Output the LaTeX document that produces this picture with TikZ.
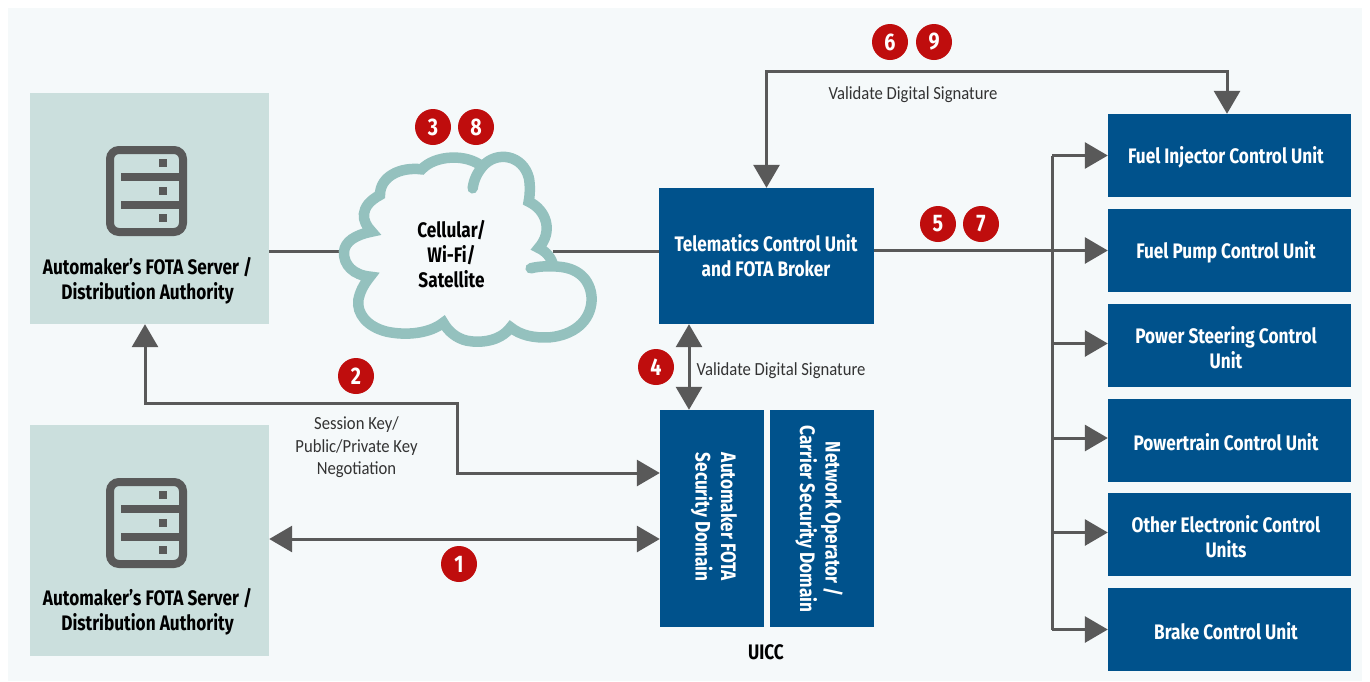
\documentclass[tikz,border=0pt]{standalone}
\usepackage{fontspec}
\setmainfont{Fira Sans}[FakeStretch=0.82]
\newfontfamily\thinfont{Carlito}[FakeStretch=0.9]
\usetikzlibrary{arrows.meta}
\definecolor{bgpale}{HTML}{F5F9FA}
\definecolor{srvpale}{HTML}{CBDFDD}
\definecolor{unitblue}{HTML}{00528C}
\definecolor{linegray}{HTML}{595959}
\definecolor{cloudteal}{HTML}{94C1BE}
\definecolor{badgered}{HTML}{BF0D0D}
\tikzset{
  unit/.style={fill=unitblue,inner sep=0pt},
  unittext/.style={text=white,font=\fontsize{21}{25.5}\selectfont\bfseries,align=center,inner sep=0pt},
  srv/.style={fill=srvpale,minimum width=239pt,minimum height=231pt,inner sep=0pt},
  srvtext/.style={font=\fontsize{21}{25}\selectfont\bfseries,align=center,text=black},
  note/.style={font=\thinfont\fontsize{18.5}{22.5}\selectfont,align=center,text=black!80},
  badge/.style={circle,fill=badgered,text=white,minimum size=36pt,inner sep=0pt,font=\fontsize{24}{24}\selectfont\bfseries},
  conn/.style={draw=linegray,line width=3pt},
  tip/.style={-{Triangle[length=23pt,width=26pt]}},
  tips/.style={{Triangle[length=23pt,width=26pt]}-{Triangle[length=23pt,width=26pt]}}
}
\begin{document}
\begin{tikzpicture}[x=1pt,y=-1pt]
  \useasboundingbox (0,0) rectangle (1370,681);
  \fill[bgpale] (8,8) rectangle (1362,681);

  \node[srv] (srvA) at (149.5,208.5) {};
  \node[srv] (srvB) at (149.5,540.5) {};
  \node[srvtext] (srvAtext) at (147.5,280.5) {Automaker’s FOTA Server /\\Distribution Authority};
  \node[srvtext] (srvBtext) at (147.5,612) {Automaker’s FOTA Server /\\Distribution Authority};

  \foreach \dy in {0,332} {
    \draw[linegray,line width=8pt,rounded corners=9pt] (110,150+\dy) rectangle (183,232+\dy);
    \draw[linegray,line width=8pt] (121,177+\dy) -- (183,177+\dy);
    \draw[linegray,line width=8pt] (121,205+\dy) -- (183,205+\dy);
    \foreach \yy in {163,191,218}
      \fill[linegray] (159,\yy-4+\dy) rectangle (167,\yy+4+\dy);
  }

  \node[unit,minimum width=215pt,minimum height=136pt] (tcu) at (766.5,256) {};
  \node[unittext] (tcutext) at (766,255.5) {Telematics Control Unit\\and FOTA Broker};
  \node[unit,minimum width=104pt,minimum height=217pt] (uiccA) at (712,518.5) {};
  \node[unit,minimum width=104pt,minimum height=217pt] (uiccB) at (822,518.5) {};
  \node[unittext,rotate=-90] (uiccAtext) at (714,517) {Automaker FOTA\\Security Domain};
  \node[unittext,rotate=-90] (uiccBtext) at (819,519) {Network Operator /\\Carrier Security Domain};
  \node[srvtext] (uicc) at (766,652) {UICC};

  \foreach \n/\yy/\txt in {fuA/155.5/Fuel Injector Control Unit,fuB/250.5/Fuel Pump Control Unit,fuC/345.5/{Power Steering Control\\Unit},fuD/440/Powertrain Control Unit,fuE/534.5/{Other Electronic Control\\Units},fuF/629.5/Brake Control Unit} {
    \node[unit,minimum width=243pt,minimum height=83pt] (\n) at (1229.5,\yy) {};
    \node[unittext] (\n text) at (1226,\yy+2) {\txt};
  }

  \coordinate (cloudW) at (340,251);
  \coordinate (cloudE) at (553,251);
  \coordinate (bus) at (1052,251);
  \coordinate (keyturn) at (457,403);
  \draw[conn] (srvA.east |- cloudW) -- (cloudW);
  \draw[conn] (cloudE) -- (tcu.west |- cloudE);

  \begin{scope}[shift={(320,100)},x=0.3333pt,y=-0.3333pt]
    \draw[cloudteal,line width=10.5pt,line cap=round,line join=miter]
      (458,265) .. controls (462,235) and (475,215) .. (487,200)
      .. controls (530,150) and (610,165) .. (627,235)
      .. controls (631,258) and (630,285) .. (626,305)
      .. controls (680,330) and (700,395) .. (656,444)
      .. controls (680,455) and (695,475) .. (700,498);
    \draw[cloudteal,line width=10.5pt,line cap=round,line join=miter]
      (632,505) .. controls (660,498) and (690,498) .. (715,500)
      .. controls (785,505) and (815,550) .. (815,600)
      .. controls (812,665) and (760,705) .. (690,712)
      .. controls (640,715) and (600,705) .. (572,682)
      .. controls (540,725) and (480,730) .. (440,722)
      .. controls (410,715) and (385,695) .. (370,668)
      .. controls (330,700) and (260,708) .. (200,695)
      .. controls (140,680) and (110,640) .. (115,600)
      .. controls (120,575) and (130,555) .. (150,530)
      .. controls (100,525) and (70,495) .. (72,455)
      .. controls (75,425) and (105,405) .. (155,395)
      .. controls (125,365) and (115,320) .. (180,285)
      .. controls (180,230) and (240,200) .. (305,208)
      .. controls (345,165) and (440,160) .. (487,200);
  \end{scope}
  \node[srvtext,font=\fontsize{21}{25}\selectfont\bfseries] (cloud) at (451.5,254.5) {Cellular/\\Wi-Fi/\\Satellite};

  \draw[conn,tips] (tcu.north) |- (1227,71) -- ([xshift=-2.5pt]fuA.north);
  \draw[conn,tips] ([xshift=-77.5pt]tcu.south) -- ([xshift=-23pt]uiccA.north);
  \draw[conn,tips] ([yshift=1.5pt]srvB.east) -- ([yshift=-20.5pt]uiccA.west);
  \draw[conn,tips] ([xshift=-4.5pt]srvA.south) |- (keyturn) |- ([yshift=45.5pt]uiccA.west);

  \draw[conn] (bus |- fuA.west) -- (bus |- fuF.west);
  \draw[conn,tip] (tcu.east |- fuB.west) -- (fuB.west);
  \draw[conn,tip] (bus |- fuA.west) -- (fuA.west);
  \draw[conn,tip] ([yshift=2pt]bus |- fuC.west) -- ([yshift=2pt]fuC.west);
  \draw[conn,tip] ([yshift=2pt]bus |- fuD.west) -- ([yshift=2pt]fuD.west);
  \draw[conn,tip] ([yshift=2pt]bus |- fuE.west) -- ([yshift=2pt]fuE.west);
  \draw[conn,tip] (bus |- fuF.west) -- (fuF.west);

  \foreach \n/\xx/\yy in {1/459/564,2/356/376,3/433/127,8/476/127,4/656/367,5/938/224,7/981/224,6/890/42,9/934/42}
    \node[badge] (badge\n) at (\xx,\yy) {\n};

  \node[note] (sign) at (913,95) {Validate Digital Signature};
  \node[note] (signB) at (781,371) {Validate Digital Signature};
  \node[note] (keys) at (356.5,447.5) {Session Key/\\Public/Private Key\\Negotiation};
\end{tikzpicture}
\end{document}
